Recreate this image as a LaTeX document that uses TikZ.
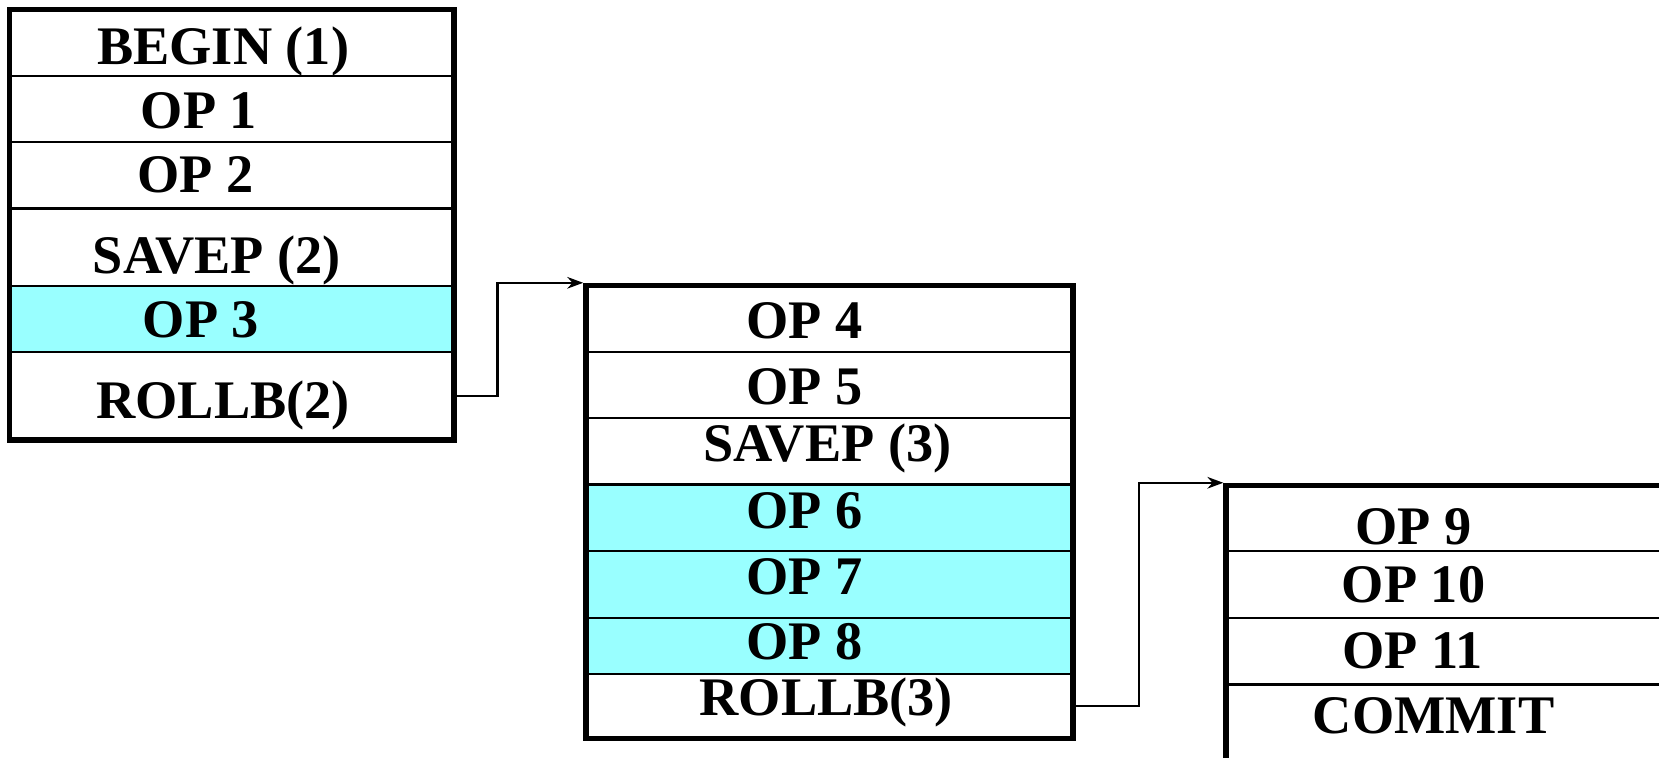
\documentclass[tikz,border=0pt]{standalone}
\usepackage{fontspec}
\setmainfont{Liberation Serif}
\usetikzlibrary{arrows.meta,fit}
\definecolor{SpCyan}{RGB}{153,255,255}
\tikzset{
  sp/row/.style={
    draw=black,
    line width=0.6pt,
    fill=white,
    inner sep=0pt
  },
  sp/text/.style={inner sep=0pt, font=\fontsize{14.6}{17}\selectfont\bfseries},
  sp/frame/.style={draw=black, line width=1.5pt, inner sep=0pt},
  sp/arrow/.style={-{Stealth[length=1.5mm,width=1.1mm]}, line width=0.6pt, draw=black}
}

\begin{document}
\begin{tikzpicture}[x=0.01cm,y=-0.01cm]
  \useasboundingbox (0,0) rectangle (1568,716);
  \clip (0,0) rectangle (1568,716);
  % first block
  \foreach \nm/\txt/\a/\b/\c/\dx/\dy in {
    b1r1/BEGIN (1)/10/72/white/-8/-8,b1r2/OP 1/72/134/white/-31/-2,b1r3/OP 2/134/197/white/-34/0,
    b1r4/SAVEP (2)/197/270/white/-14/-13,b1r5/OP 3/270/333/SpCyan/-29/-1,b1r6/ROLLB(2)/333/415/white/-8/-9}
  {\node[sp/row,fill=\c,minimum width=4.18cm,minimum height={(\b-\a)*0.01cm},
     label={[sp/text,xshift={\dx*0.01cm},yshift={\dy*0.01cm}]center:\txt}] (\nm) at (219,{(\a+\b)/2}) {};}
  \node[sp/frame,fit=(b1r1)(b1r6)] (b1) {};
  % second block
  \foreach \nm/\txt/\a/\b/\c/\dx/\dy in {
    b2r1/OP 4/271/333/white/-24/-1,b2r2/OP 5/333/395/white/-24/-2,b2r3/SAVEP (3)/395/458/white/-2/3,
    b2r4/OP 6/458/521/SpCyan/-24/7,b2r5/OP 7/521/584/SpCyan/-24/7,b2r6/OP 8/584/637/SpCyan/-24/4,
    b2r7/ROLLB(3)/637/697/white/-3/3}
  {\node[sp/row,fill=\c,minimum width=4.58cm,minimum height={(\b-\a)*0.01cm},
     label={[sp/text,xshift={\dx*0.01cm},yshift={\dy*0.01cm}]center:\txt}] (\nm) at (784,{(\a+\b)/2}) {};}
  \node[sp/frame,fit=(b2r1)(b2r7)] (b2) {};
  % third block (runs off the page)
  \foreach \nm/\txt/\a/\b/\dx/\dy in {
    b3r1/OP 9/460/521/-34/-7,b3r2/OP 10/521/584/-34/0,b3r3/OP 11/584/647/-35/0,b3r4/COMMIT/647/725/-15/9}
  {\node[sp/row,minimum width=4.2cm,minimum height={(\b-\a)*0.01cm},
     label={[sp/text,xshift={\dx*0.01cm},yshift={\dy*0.01cm}]center:\txt}] (\nm) at (1370,{(\a+\b)/2}) {};}
  \node[sp/frame,fit=(b3r1)(b3r4)] (b3) {};
  % rollbacks
  \draw[sp/arrow] (b1r6.east) -- ++(41,0) |- (b2.north west);
  \draw[sp/arrow] (b2r7.east) -- ++(62,0) |- (b3.north west);
\end{tikzpicture}
\end{document}
